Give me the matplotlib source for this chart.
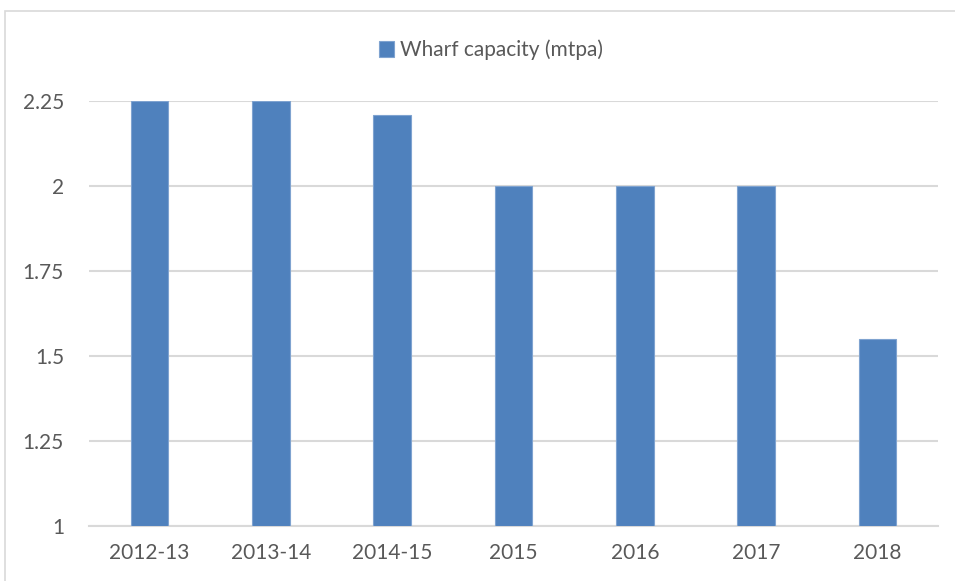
import numpy as np
import matplotlib.pyplot as plt
from matplotlib.patches import Rectangle

years = ['2012-13', '2013-14', '2014-15', '2015', '2016', '2017', '2018']
capacity = [2.25, 2.25, 2.21, 2.0, 2.0, 2.0, 1.55]
yticks = [1, 1.25, 1.5, 1.75, 2, 2.25]
ytick_labels = ['1', '1.25', '1.5', '1.75', '2', '2.25']

plt.rcParams['font.family'] = ['Lato', 'DejaVu Sans']
txt_col = '#595959'
grid_col = '#D9D9D9'

W, H = 955, 581
fig = plt.figure(figsize=(W / 100, H / 100), dpi=100)
ax = fig.add_axes([89 / W, 1 - 526 / H, (938 - 89) / W, (526 - 101) / H])

x = np.arange(len(years))
ax.bar(x, [v - 1 for v in capacity], bottom=1, width=0.31, color='#4F81BD',
       edgecolor='#7FA3D0', linewidth=0.8, label='Wharf capacity (mtpa)', zorder=3)

ax.set_xlim(-0.5, len(years) - 0.5)
ax.set_ylim(1, 2.25)
ax.set_yticks(yticks)
ax.set_yticklabels(ytick_labels)
ax.set_xticks(x)
ax.set_xticklabels(years)
ax.tick_params(axis='y', length=0, pad=18, labelsize=15, labelcolor=txt_col)
ax.tick_params(axis='x', length=0, pad=12, labelsize=15, labelcolor=txt_col)
ax.yaxis.grid(True, color=grid_col, linewidth=1.5, zorder=0)
ax.set_axisbelow(True)
for s in ['top', 'right', 'left']:
    ax.spines[s].set_visible(False)
ax.spines['bottom'].set_color(grid_col)
ax.spines['bottom'].set_linewidth(1.5)

# chart area border
fig.patches.append(Rectangle((5 / W, -0.05), 1.1, 1 - 11 / H + 0.05,
                             transform=fig.transFigure, fill=False,
                             edgecolor='#D9D9D9', linewidth=1.2, clip_on=False))

fig.legend(loc='center', bbox_to_anchor=(491 / W, 1 - 50 / H), frameon=False,
           fontsize=15, labelcolor=txt_col, handlelength=0.75, handleheight=0.75,
           handletextpad=0.3)

fig.savefig('out.png', dpi=100)
